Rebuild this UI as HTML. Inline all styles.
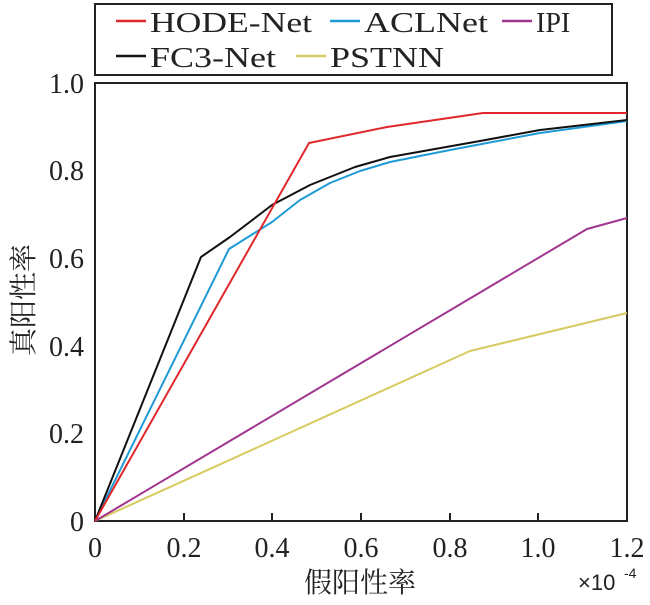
<!DOCTYPE html>
<html><head><meta charset="utf-8"><style>
body{margin:0;background:#fff}
</style></head><body>
<svg width="650" height="600" viewBox="0 0 650 600" xmlns="http://www.w3.org/2000/svg" font-family="'Liberation Serif','DejaVu Serif',serif" fill="#222">
<rect x="95" y="4" width="517" height="71" fill="#fff" stroke="#222" stroke-width="2"/>
<g stroke-width="2.5">
<line x1="116" y1="21" x2="146" y2="21" stroke="#e0282c"/>
<line x1="330" y1="21" x2="360" y2="21" stroke="#1e9ad6"/>
<line x1="502" y1="21" x2="532" y2="21" stroke="#a0358f"/>
<line x1="116" y1="56" x2="146" y2="56" stroke="#111"/>
<line x1="296" y1="56" x2="326" y2="56" stroke="#d6cb60"/>
</g>
<g font-size="28" style="font-family:'Liberation Serif',serif">
<text x="150" y="32" textLength="162" lengthAdjust="spacingAndGlyphs">HODE-Net</text>
<text x="364" y="32" textLength="124" lengthAdjust="spacingAndGlyphs">ACLNet</text>
<text x="536" y="32">IPI</text>
<text x="150" y="67" textLength="126" lengthAdjust="spacingAndGlyphs">FC3-Net</text>
<text x="330" y="67" textLength="114" lengthAdjust="spacingAndGlyphs">PSTNN</text>
</g>
<rect x="95" y="83" width="532" height="438" fill="none" stroke="#222" stroke-width="2"/>
<g stroke="#222" stroke-width="2">
<line x1="184" y1="521" x2="184" y2="513"/><line x1="272" y1="521" x2="272" y2="513"/>
<line x1="361" y1="521" x2="361" y2="513"/><line x1="450" y1="521" x2="450" y2="513"/>
<line x1="538" y1="521" x2="538" y2="513"/>
</g>
<g font-size="28" text-anchor="middle" style="font-family:'Liberation Serif',serif">
<text x="95" y="557">0</text><text x="184" y="557">0.2</text><text x="272" y="557">0.4</text>
<text x="361" y="557">0.6</text><text x="450" y="557">0.8</text><text x="538" y="557">1.0</text><text x="627" y="557">1.2</text>
</g>
<g font-size="28" text-anchor="end" style="font-family:'Liberation Serif',serif">
<text x="84" y="531">0</text><text x="84" y="443">0.2</text><text x="84" y="356">0.4</text>
<text x="84" y="268">0.6</text><text x="84" y="180">0.8</text><text x="84" y="93">1.0</text>
</g>
<text x="360" y="592" font-size="28" text-anchor="middle" style="font-family:'Noto Serif CJK SC',serif">假阳性率</text>
<text x="578" y="590" font-size="22" style="font-family:'Liberation Sans',sans-serif">×10</text><text x="624" y="578" font-size="14" style="font-family:'Liberation Sans',sans-serif">-4</text>
<text transform="translate(33,300) rotate(-90)" font-size="28" text-anchor="middle" style="font-family:'Noto Serif CJK SC',serif">真阳性率</text>
<g fill="none" stroke-width="2" stroke-linejoin="round">
<polyline stroke="#d6cb60" points="95,521 470,351 627,313"/>
<polyline stroke="#a0358f" points="95,521 587,229 627,218"/>
<polyline stroke="#1e9ad6" points="95,521 229,249 272,222 300,200 330,183 360,171 390,162 450,150 540,133 627,121"/>
<polyline stroke="#111" points="95,521 201,257 230,237 272,205 310,185 355,167 390,157 480,141 540,130 627,120"/>
<polyline stroke="#e0282c" points="95,521 309,143 387,127 483,113 627,113"/>
</g>
</svg>
</body></html>
